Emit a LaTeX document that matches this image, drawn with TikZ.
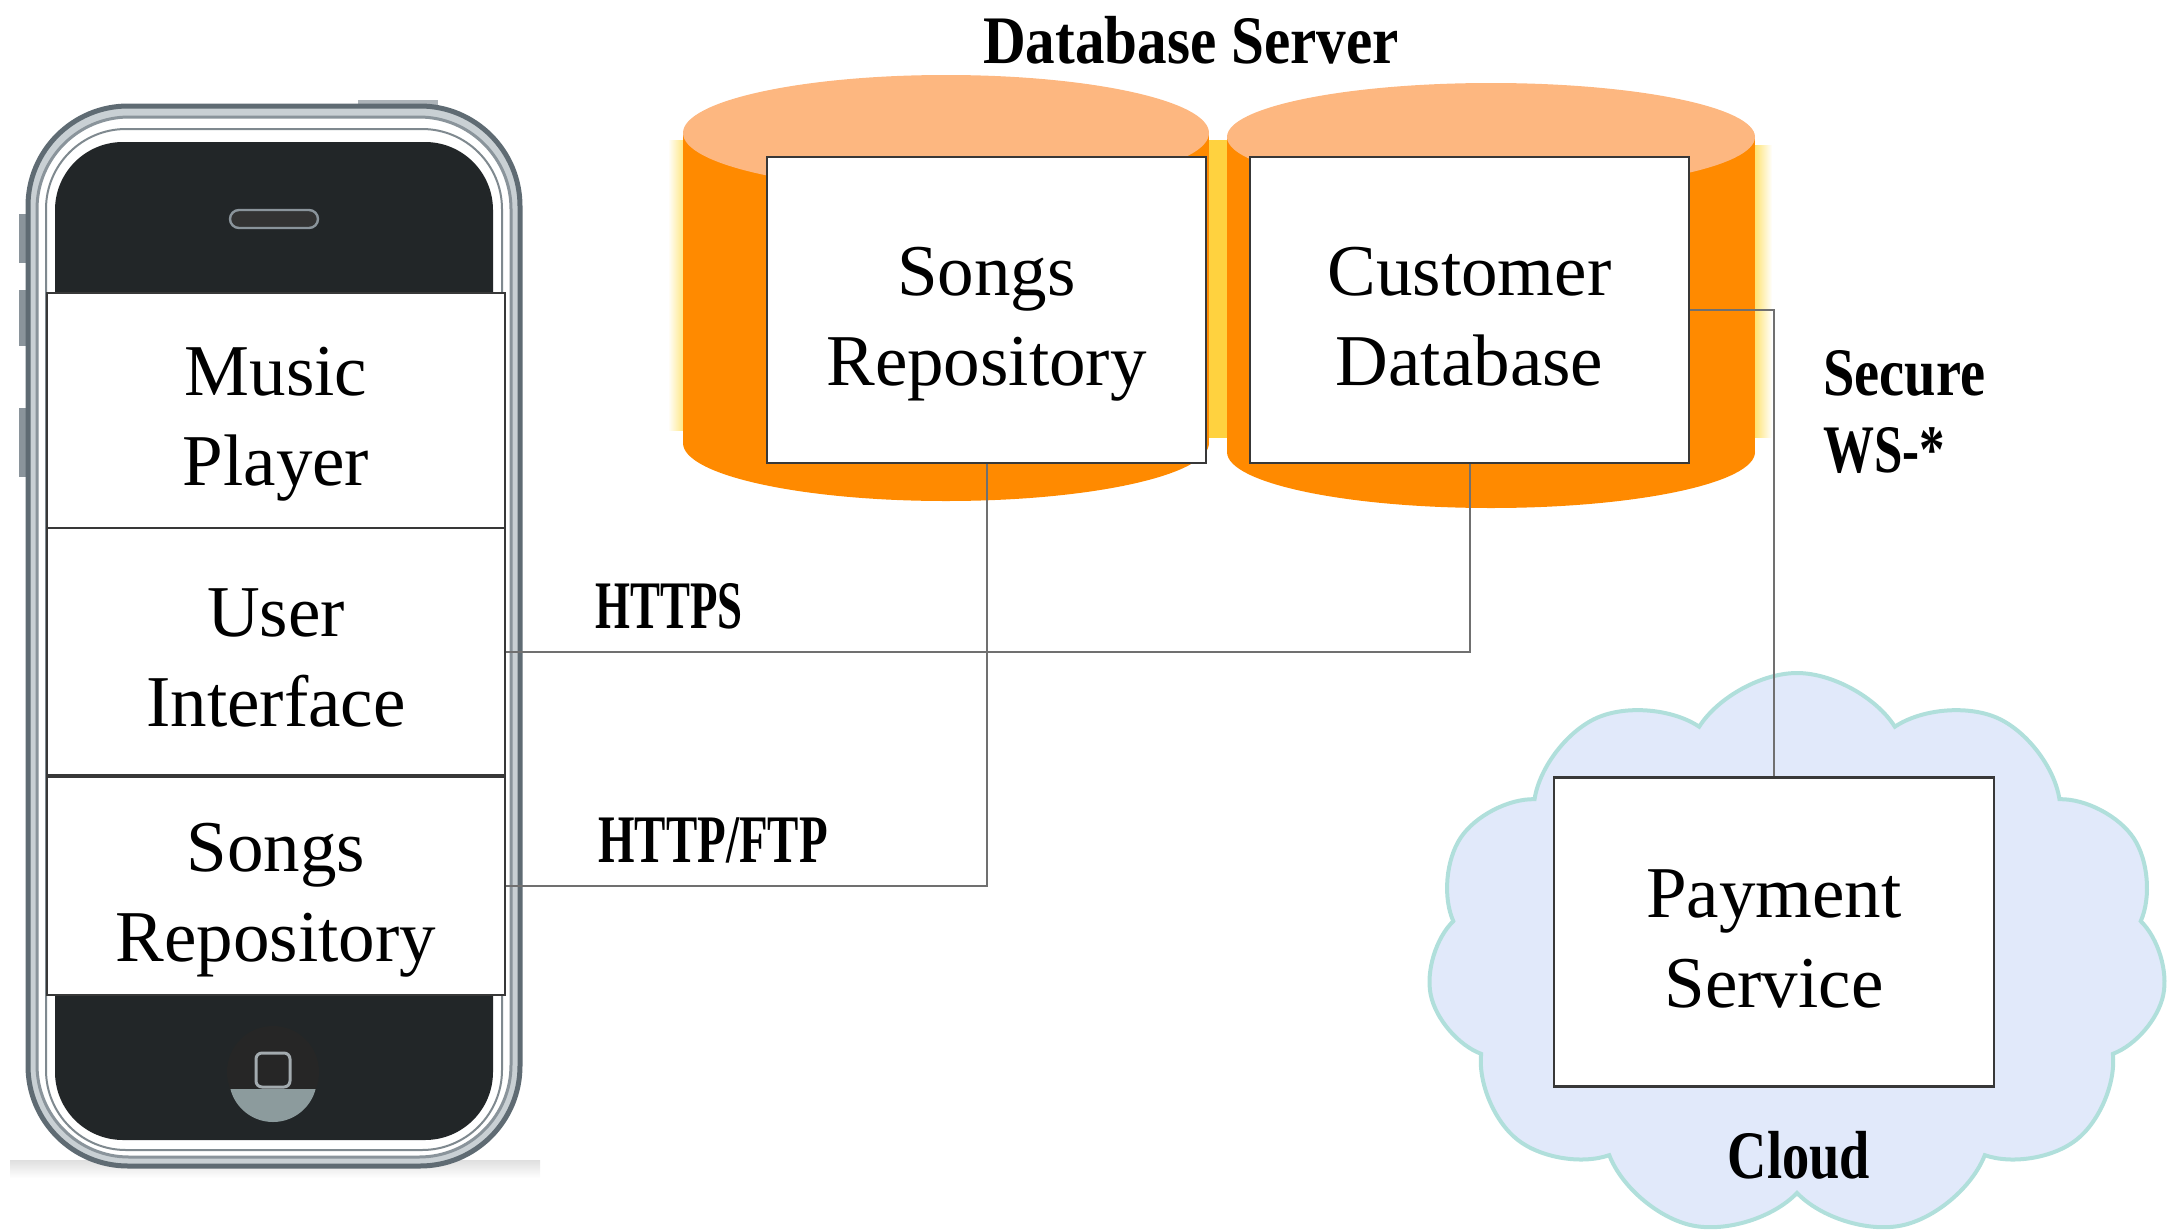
\documentclass[tikz,border=0pt]{standalone}
\usepackage{fontspec}
\usepackage{graphicx}
\setmainfont{Liberation Serif}
\usetikzlibrary{shapes.symbols}

\definecolor{orangebody}{HTML}{FF8A00}
\definecolor{orangetop}{HTML}{FDB780}
\definecolor{glow}{HTML}{FFE26B}
\definecolor{glowmid}{HTML}{FFD23F}
\definecolor{boxline}{HTML}{383838}
\definecolor{connline}{HTML}{707070}
\definecolor{cloudfill}{HTML}{E1E9FA}
\definecolor{cloudline}{HTML}{B0DFDB}
\definecolor{screen}{HTML}{222628}
\definecolor{frameouter}{HTML}{5F6B73}
\definecolor{framefill}{HTML}{C9D0D4}
\definecolor{framemid}{HTML}{8A949B}
\definecolor{homegray}{HTML}{8C9B9D}
\definecolor{iconline}{HTML}{A3ABAF}

% two centred lines, set slightly below the box centre
\newcommand{\twolines}[2]{\raisebox{-6pt}[\height][\depth]{\begin{tabular}{@{}c@{}}#1\\#2\end{tabular}}}

\begin{document}
\begin{tikzpicture}[x=0.5pt,y=-0.5pt,
  box/.style={draw=boxline, line width=1.4pt, fill=white, align=center,
    inner sep=0pt, font=\fontsize{36.5pt}{45pt}\selectfont},
  conn/.style={draw=connline, line width=1pt},
  lbl/.style={font=\bfseries\fontsize{34pt}{38pt}\selectfont, inner sep=0pt}]
\useasboundingbox (0,0) rectangle (2168,1231);

% ---------- phone ----------
\shade[top color=gray!25, bottom color=white] (10,1160) rectangle (540,1178);
% side and top buttons
\fill[framemid] (19,214) rectangle (32,263);
\fill[framemid] (19,290) rectangle (32,346);
\fill[framemid] (19,408) rectangle (32,477);
\fill[framemid!70] (358,100) rectangle (438,110);
% body
\draw[frameouter, fill=framefill, line width=2.5pt, rounded corners=50pt]
  (28,106) rectangle (520,1166);
\draw[framemid, fill=white, line width=1.5pt, rounded corners=46pt]
  (37,117) rectangle (511,1157);
\draw[frameouter!80, fill=white, line width=1pt, rounded corners=40pt]
  (46,129) rectangle (502,1150);
\fill[screen, rounded corners=34pt] (55,142) rectangle (493,1140);
% speaker
\draw[framemid, fill=black!80, line width=1.2pt, rounded corners=4.5pt]
  (230,210) rectangle (318,228);
% home button
\fill[black!85] (273,1072) circle (23pt);
\begin{scope}
  \clip (200,1089) rectangle (350,1135);
  \fill[homegray] (273,1078) circle (22pt);
\end{scope}
\draw[iconline, line width=1.5pt, rounded corners=3pt] (256,1053) rectangle (290,1087);

% phone layers
\node[box, minimum width=229pt, minimum height=117.5pt] (mp) at (276,410.5) {\twolines{Music}{Player}};
\node[box, minimum width=229pt, minimum height=123.5pt] (ui) at (276,651.5) {\twolines{User}{Interface}};
\node[box, minimum width=229pt, minimum height=109pt] (sp) at (276,886) {\twolines{Songs}{Repository}};

% ---------- database server ----------
% glow strips along the cylinders
\shade[left color=white, right color=glow] (668,140) rectangle (686,430);
\fill[glowmid] (1209,140) rectangle (1228,438);
\shade[left color=glow, right color=white] (1754,145) rectangle (1772,437);
% left cylinder
\fill[orangebody] (946,443) ellipse [x radius=131.5pt, y radius=29pt];
\fill[orangebody] (683,133) rectangle (1209,443);
\fill[orangetop] (946,133) ellipse [x radius=131.5pt, y radius=29pt];
% right cylinder
\fill[orangebody] (1491,452) ellipse [x radius=132pt, y radius=28pt];
\fill[orangebody] (1227,137) rectangle (1755,452);
\fill[orangetop] (1491,137) ellipse [x radius=132pt, y radius=27pt];

\node[box, minimum width=219.5pt, minimum height=153pt] (sdb) at (986.5,310) {\twolines{Songs}{Repository}};
\node[box, minimum width=219.5pt, minimum height=153pt] (cd) at (1469.5,310) {\twolines{Customer}{Database}};

\node[lbl, anchor=base] (dbs) at (1191,63) {\scalebox{0.87}[1]{Database Server}};

% ---------- cloud ----------
\node[cloud, cloud puffs=11, cloud puff arc=115, aspect=1.33,
  minimum width=370pt, minimum height=282pt,
  fill=cloudfill, draw=cloudline, line width=2pt] (cloud) at (1797,955) {};
\node[box, minimum width=220pt, minimum height=154.5pt] (ps) at (1774,932) {\twolines{Payment}{Service}};
\node[lbl, anchor=base] (cl) at (1799,1178) {\scalebox{0.8}[1]{Cloud}};

% ---------- connectors ----------
\draw[conn] (ui.east) -| (cd.south);
\draw[conn] (sp.east) -| (sdb.south);
\draw[conn] (cd.east) -| (ps.north);

\node[lbl, anchor=base west] (https) at (595,628) {\scalebox{0.66}[1]{HTTPS}};
\node[lbl, anchor=base west] (ftp) at (598,862) {\scalebox{0.69}[1]{HTTP/FTP}};
\node[lbl, anchor=base west] (sec) at (1823,395) {\scalebox{0.83}[1]{Secure}};
\node[lbl, anchor=base west] (ws) at (1823,472) {\scalebox{0.75}[1]{WS-*}};
\end{tikzpicture}
\end{document}
